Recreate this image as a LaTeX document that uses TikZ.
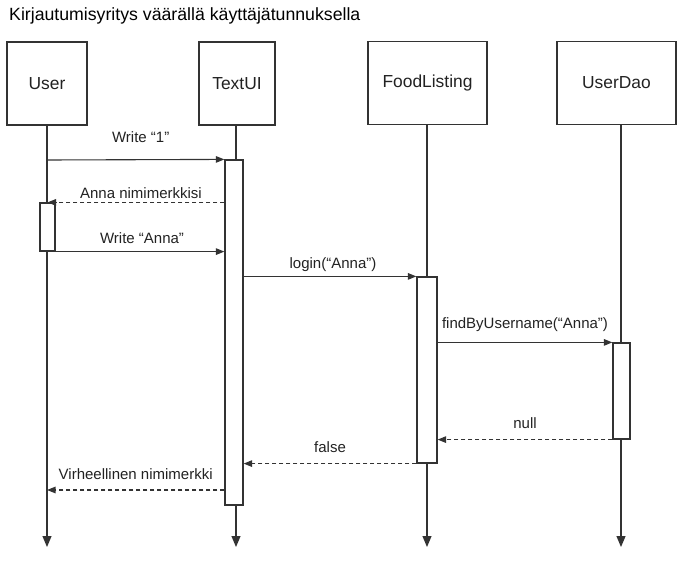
\documentclass[tikz,border=0pt]{standalone}
\usepackage{fontspec}
\setmainfont{Liberation Sans}
\usetikzlibrary{arrows.meta}
\definecolor{linegray}{HTML}{333333}
\definecolor{textgray}{HTML}{222222}
\tikzset{
  obj/.style={draw=linegray, line width=1.2pt, minimum width=80pt, minimum height=83pt,
              font=\fontsize{17.4}{20}\selectfont, text=textgray},
  act/.style={draw=linegray, fill=white, line width=1.2pt, minimum width=18pt, inner sep=0pt},
  life/.style={draw=linegray, line width=1.2pt, -{Triangle[length=11pt,width=9pt]}},
  msg/.style={draw=linegray, line width=1.1pt, -{Triangle[length=8.5pt,width=6.5pt]}},
  ret/.style={msg, dash pattern=on 4pt off 3pt},
  lbl/.style={font=\fontsize{15}{18}\selectfont, text=textgray, inner sep=0pt, text depth=0pt},
}

\begin{document}
\begin{tikzpicture}[x=1pt,y=-1pt]

    % Canvas
    \useasboundingbox (0,0) rectangle (686,567);

    % Title
    \node[anchor=base west, font=\fontsize{17.7}{21}\selectfont, inner sep=0pt] (title) at (9,20.7)
        {Kirjautumisyritys väärällä käyttäjätunnuksella};

    % Objects
    \node[obj] (user) at (47,83.5) {User};
    \node[obj, minimum width=76pt] (textui) at (237,83.5) {TextUI};
    \node[obj, minimum width=119pt] (foodlisting) at (427.5,83) {FoodListing};
    \node[obj, minimum width=119pt] (userdao) at (616.5,83) {UserDao};

    % Lifelines
    \coordinate (userend) at (47,547);
    \coordinate (textuiend) at (236,547);
    \coordinate (foodend) at (427,547);
    \coordinate (daoend) at (621,547);
    \draw[life] (user.south) -- (userend);
    \draw[life] ([xshift=-1pt]textui.south) -- (textuiend);
    \draw[life] ([xshift=-0.5pt]foodlisting.south) -- (foodend);
    \draw[life] ([xshift=4.5pt]userdao.south) -- (daoend);

    % Activations
    \node[act, minimum width=15pt, minimum height=48pt] (useract) at (47.5,227) {};
    \node[act, minimum height=345pt] (textuiact) at (234,332.5) {};
    \node[act, minimum width=20pt, minimum height=186pt] (foodact) at (427,370) {};
    \node[act, minimum width=17pt, minimum height=96pt] (daoact) at (621.5,391) {};

    % Messages
    \coordinate (w1) at (47,160);
    \draw[msg] (w1) -- (textuiact.north west)
        node[lbl, midway, above=16.7pt, xshift=5pt] {Write “1”};
    \draw[ret] (textuiact.west |- useract.north) -- (useract.north)
        node[lbl, midway, above=3pt, xshift=5pt] {Anna nimimerkkisi};
    \draw[msg] (useract.south east) -- (textuiact.west |- useract.south)
        node[lbl, midway, above=8pt, xshift=2pt] {Write “Anna”};
    \draw[msg] (textuiact.east |- foodact.north) -- (foodact.north west)
        node[lbl, midway, above=7pt, xshift=3pt] {login(“Anna”)};
    \draw[msg] (foodact.east |- daoact.north) -- (daoact.north west)
        node[lbl, midway, above=13pt] {findByUsername(“Anna”)};
    \draw[ret] (daoact.south west) -- (foodact.east |- daoact.south)
        node[lbl, midway, above=11pt] {null};
    \draw[ret] (foodact.south west) -- (textuiact.east |- foodact.south)
        node[lbl, midway, above=11pt] {false};
    \coordinate (v1) at (47,490);
    \draw[ret] (textuiact.west |- v1) -- (v1)
        node[lbl, midway, above=10pt] {Virheellinen nimimerkki};

\end{tikzpicture}
\end{document}
